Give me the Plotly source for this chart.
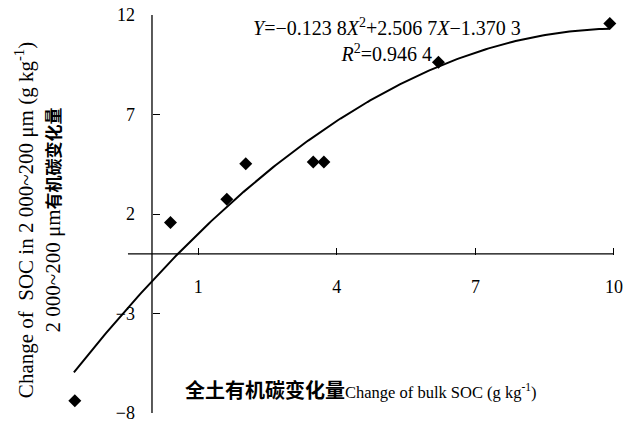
import numpy as np
import plotly.graph_objects as go

# Observed points (change of bulk SOC vs change of 2000~200 µm SOC)
bulk_soc_change = [-1.67, 0.40, 1.62, 2.03, 3.49, 3.72, 6.20, 9.91]
agg_soc_change = [-7.39, 1.57, 2.74, 4.53, 4.61, 4.61, 9.63, 11.57]

# Fitted quadratic shown on the chart: Y = a X^2 + b X + c
fit_coefs = [-0.1238, 2.5067, -1.3703]
fit_x_span = [-1.69, 9.91]

x_ticks = [1, 4, 7, 10]
y_ticks = [-8, -3, 2, 7, 12]

fit_x = np.linspace(fit_x_span[0], fit_x_span[1], 200)
fit_y = np.polyval(fit_coefs, fit_x)

SERIF = "Liberation Serif, Noto Sans CJK SC"

fig = go.Figure()
fig.add_trace(go.Scatter(x=fit_x, y=fit_y, mode="lines",
                         line=dict(color="black", width=2), showlegend=False))
fig.add_trace(go.Scatter(x=bulk_soc_change, y=agg_soc_change, mode="markers",
                         marker=dict(symbol="diamond", size=10, color="black"),
                         cliponaxis=False, showlegend=False))

# axis lines crossing at origin
fig.add_shape(type="line", xref="x", yref="y", x0=-0.52, x1=10, y0=0, y1=0,
              line=dict(color="black", width=1.3))
fig.add_shape(type="line", xref="x", yref="y", x0=0, x1=0, y0=-8, y1=12,
              line=dict(color="black", width=1.3))

fig.update_layout(
    width=625, height=422,
    margin=dict(l=60, r=5, t=15, b=9, autoexpand=False),
    paper_bgcolor="white", plot_bgcolor="white",
    font=dict(family=SERIF, size=18, color="black"),
    xaxis=dict(range=[-1.991, 10.130], tickvals=x_ticks, ticks="inside",
               ticklen=7, tickwidth=1.3, tickcolor="black", showline=False,
               showgrid=False, zeroline=False, anchor="free", position=0.398,
               automargin=False, ticklabeloverflow="allow",
               ticklabelstandoff=19, tickfont=dict(family=SERIF, size=18)),
    yaxis=dict(range=[-8, 12], tickvals=y_ticks, ticks="inside",
               ticklen=7, tickwidth=1.3, tickcolor="black", showline=False,
               showgrid=False, zeroline=False, anchor="free", position=0.1643,
               automargin=False, ticklabeloverflow="allow",
               ticklabelstandoff=17, tickfont=dict(family=SERIF, size=18)),
    annotations=[
        dict(text="<i>Y</i>=−0.123 8<i>X</i><sup>2</sup>+2.506 7<i>X</i>−1.370 3<br><i>R</i><sup>2</sup>=0.946 4",
             xref="paper", yref="paper", x=0.584, y=0.937, xanchor="center",
             yanchor="middle", align="center", showarrow=False,
             font=dict(family=SERIF, size=20)),
        dict(text="<b><span style='font-size:20px'>全土有机碳变化量</span></b>Change of bulk SOC (g kg<sup>-1</sup>)",
             xref="paper", yref="paper", x=0.5375, y=0.0553, xanchor="center",
             yanchor="middle", showarrow=False, font=dict(family=SERIF, size=16.5)),
        dict(text="Change of  SOC in 2 000~200 μm (g kg<sup>-1</sup>)<br>2 000~200 μm<b><span style='font-size:17px'>有机碳变化量</span></b>",
             xref="paper", yref="paper", x=-0.039, y=0.485, xanchor="center",
             yanchor="middle", align="center", textangle=-90, showarrow=False,
             font=dict(family=SERIF, size=21)),
    ],
)

fig.write_html("out.html", config={"displayModeBar": False},
               post_script="document.body.style.margin='0';document.body.style.padding='0';")
